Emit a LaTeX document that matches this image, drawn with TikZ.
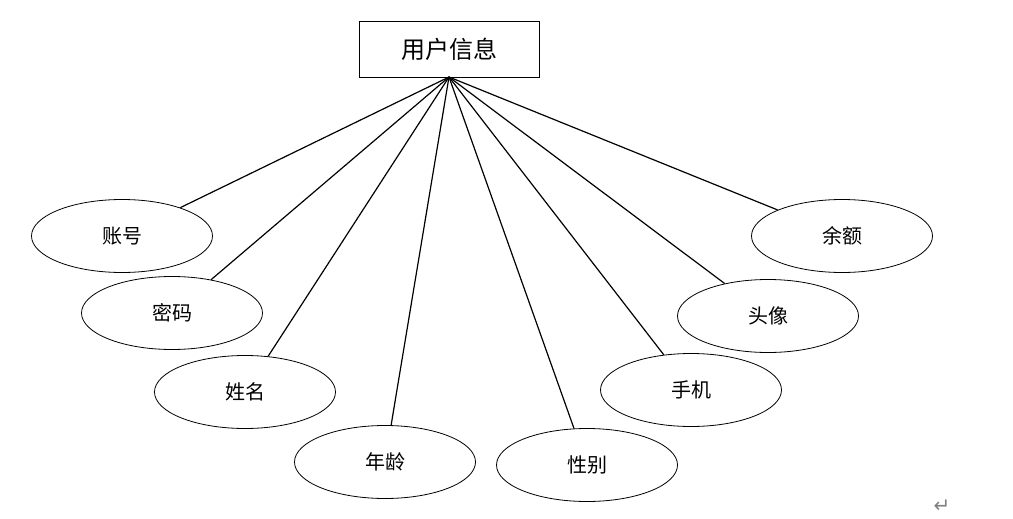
\documentclass[tikz,border=0pt]{standalone}
\usepackage{fontspec}
\newfontfamily\cjk{Noto Sans CJK SC}
\newfontfamily\dejavu{DejaVu Sans}
\usetikzlibrary{shapes.geometric}
\begin{document}
\begin{tikzpicture}[x=1pt,y=-1pt,
  entity/.style={draw, line width=0.9pt, minimum width=180pt, minimum height=56pt, inner sep=0pt, font=\cjk\fontsize{24}{28}\selectfont},
  attr/.style={draw, ellipse, line width=0.8pt, minimum width=181pt, minimum height=73pt, inner sep=0pt, font=\cjk\fontsize{20}{24}\selectfont},
  link/.style={line width=1.2pt}]
\useasboundingbox (0,0) rectangle (1013,519);
\node[entity] (user) at (449,49) {用户信息};
\coordinate (hub) at (449,77);
\node[attr] (a1) at (122,236) {账号};
\node[attr] (a2) at (172,313) {密码};
\node[attr] (a3) at (245,392) {姓名};
\node[attr] (a4) at (385,462) {年龄};
\node[attr] (a5) at (587,465) {性别};
\node[attr] (a6) at (691,390) {手机};
\node[attr] (a7) at (768,316) {头像};
\node[attr] (a8) at (842,236) {余额};
\foreach \n in {a1,a2,a3,a4,a5,a6,a7,a8}
  \draw[link] (hub) -- (\n);
\node[text=gray, font=\dejavu\fontsize{20}{22}\selectfont, inner sep=0pt] (ret) at (942,506) {↵};
\end{tikzpicture}
\end{document}
